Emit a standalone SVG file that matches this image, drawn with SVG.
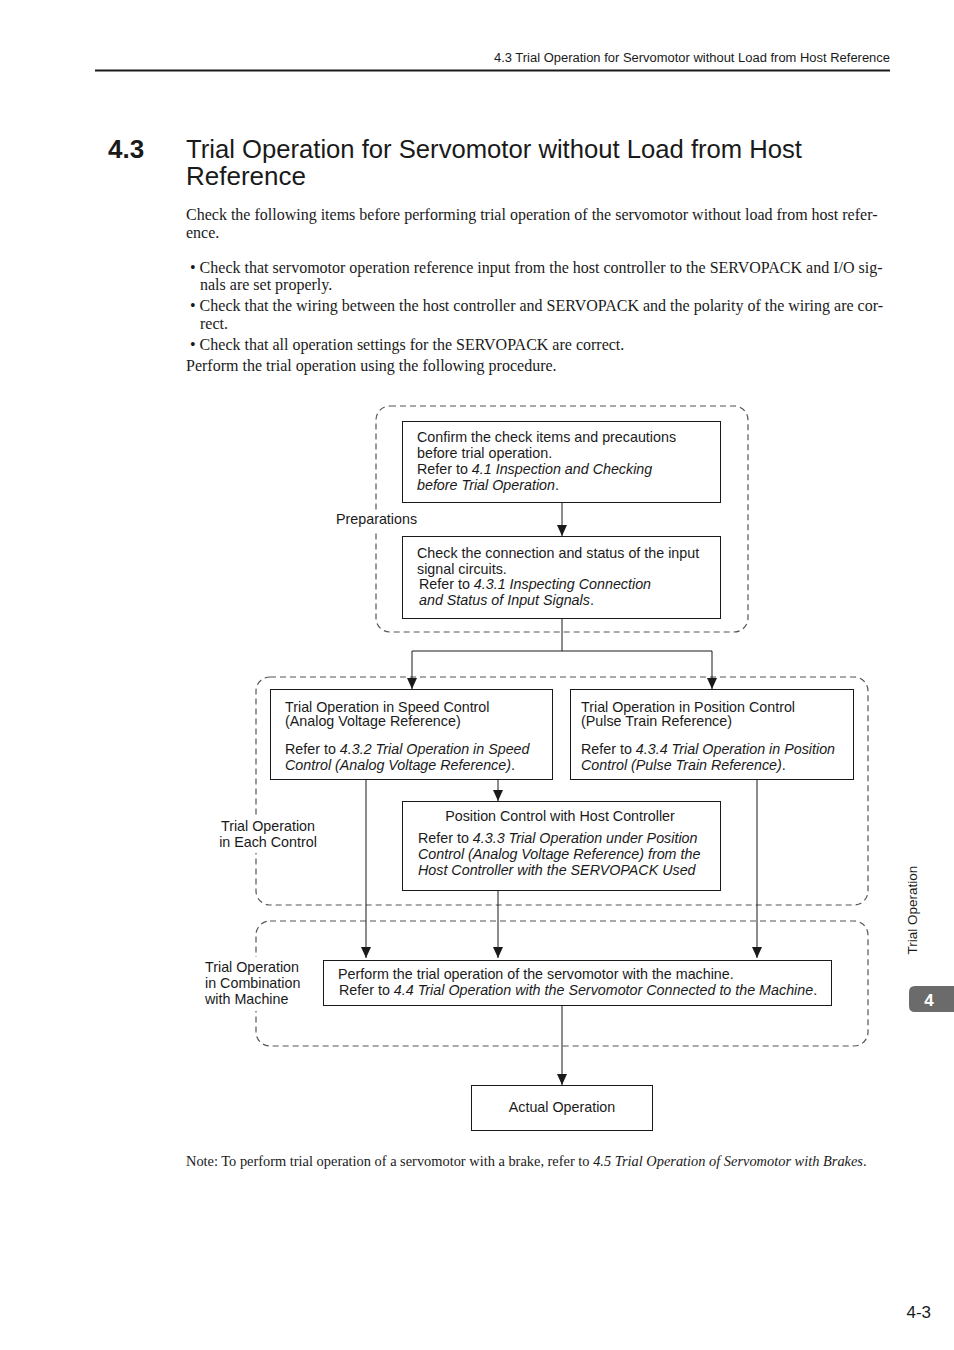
<svg xmlns="http://www.w3.org/2000/svg" width="954" height="1350" viewBox="0 0 954 1350">
<style>
.s{font-family:"Liberation Sans",Arial,sans-serif;fill:#1a1a1a}
.b{font-size:14.3px}
.r{font-family:"Liberation Serif","Times New Roman",serif;font-size:16px;fill:#1a1a1a}
.box{fill:#fff;stroke:#1a1a1a;stroke-width:1}
.grp{fill:none;stroke:#555;stroke-width:1.2;stroke-dasharray:6 4}
.ln{fill:none;stroke:#1a1a1a;stroke-width:1}
.i{font-style:italic}
.bg{fill:#fff}
</style>
<defs>
<marker id="ah" viewBox="0 0 11 10" refX="11" refY="5" markerWidth="11" markerHeight="10" markerUnits="userSpaceOnUse" orient="auto-start-reverse">
<path d="M0,0 L11,5 L0,10 Z" fill="#1a1a1a"/>
</marker>
</defs>
<rect width="954" height="1350" fill="#fff"/>

<g id="header">
<text class="s" x="890" y="62" font-size="12" text-anchor="end" textLength="396" lengthAdjust="spacingAndGlyphs">4.3  Trial Operation for Servomotor without Load from Host Reference</text>
<line x1="95" y1="70.5" x2="890" y2="70.5" stroke="#1a1a1a" stroke-width="2"/>
<text class="s" x="108" y="158" font-size="26" font-weight="bold">4.3</text>
<text class="s" x="186" y="158" font-size="26" textLength="616" lengthAdjust="spacingAndGlyphs">Trial Operation for Servomotor without Load from Host</text>
<text class="s" x="186" y="185" font-size="26">Reference</text>
</g>

<g id="intro">
<text class="r" x="186" y="220">Check the following items before performing trial operation of the servomotor without load from host refer-</text>
<text class="r" x="186" y="238">ence.</text>
<text class="r" x="190" y="273">• Check that servomotor operation reference input from the host controller to the SERVOPACK and I/O sig-</text>
<text class="r" x="200" y="290">nals are set properly.</text>
<text class="r" x="190" y="311">• Check that the wiring between the host controller and SERVOPACK and the polarity of the wiring are cor-</text>
<text class="r" x="200" y="329">rect.</text>
<text class="r" x="190" y="350">• Check that all operation settings for the SERVOPACK are correct.</text>
<text class="r" x="186" y="371">Perform the trial operation using the following procedure.</text>
</g>

<g id="groups">
<rect class="grp" x="376" y="406" width="372" height="226" rx="14"/>
<rect class="grp" x="256" y="677" width="612" height="228" rx="14"/>
<rect class="grp" x="256" y="921" width="612" height="125" rx="14"/>
<rect class="bg" x="334" y="510" width="86" height="20"/>
<text class="s b" x="336" y="524">Preparations</text>
<rect class="bg" x="216" y="815" width="106" height="38"/>
<text class="s b" x="268" y="831" text-anchor="middle">Trial Operation</text>
<text class="s b" x="268" y="847" text-anchor="middle">in Each Control</text>
<rect class="bg" x="202" y="957" width="102" height="54"/>
<text class="s b" x="205" y="972">Trial Operation</text>
<text class="s b" x="205" y="988">in Combination</text>
<text class="s b" x="205" y="1004">with Machine</text>
</g>

<g id="connectors">
<line class="ln" x1="562" y1="502" x2="562" y2="536" marker-end="url(#ah)"/>
<polyline class="ln" points="562,618 562,651"/>
<polyline class="ln" points="412,689 412,651 712,651 712,689" marker-start="url(#ah)" marker-end="url(#ah)"/>
<line class="ln" x1="498" y1="779" x2="498" y2="801" marker-end="url(#ah)"/>
<line class="ln" x1="366" y1="779" x2="366" y2="958" marker-end="url(#ah)"/>
<line class="ln" x1="498" y1="890" x2="498" y2="958" marker-end="url(#ah)"/>
<line class="ln" x1="757" y1="779" x2="757" y2="958" marker-end="url(#ah)"/>
<line class="ln" x1="562" y1="1005" x2="562" y2="1085" marker-end="url(#ah)"/>
</g>

<g id="n1">
<rect class="box" x="402.5" y="421.5" width="318" height="81"/>
<text class="s b" x="417" y="442">Confirm the check items and precautions</text>
<text class="s b" x="417" y="458">before trial operation.</text>
<text class="s b" x="417" y="474">Refer to <tspan class="i">4.1 Inspection and Checking</tspan></text>
<text class="s b" x="417" y="490"><tspan class="i">before Trial Operation</tspan>.</text>
</g>

<g id="n2">
<rect class="box" x="402.5" y="536.5" width="318" height="82"/>
<text class="s b" x="417" y="558">Check the connection and status of the input</text>
<text class="s b" x="417" y="574">signal circuits.</text>
<text class="s b" x="419" y="589">Refer to <tspan class="i">4.3.1 Inspecting Connection</tspan></text>
<text class="s b" x="419" y="605"><tspan class="i">and Status of Input Signals</tspan>.</text>
</g>

<g id="n3">
<rect class="box" x="270.5" y="689.5" width="282" height="90"/>
<text class="s b" x="285" y="712">Trial Operation in Speed Control</text>
<text class="s b" x="285" y="726">(Analog Voltage Reference)</text>
<text class="s b" x="285" y="754">Refer to <tspan class="i">4.3.2 Trial Operation in Speed</tspan></text>
<text class="s b" x="285" y="770"><tspan class="i">Control (Analog Voltage Reference)</tspan>.</text>
</g>

<g id="n4">
<rect class="box" x="570.5" y="689.5" width="283" height="90"/>
<text class="s b" x="581" y="712">Trial Operation in Position Control</text>
<text class="s b" x="581" y="726">(Pulse Train Reference)</text>
<text class="s b" x="581" y="754">Refer to <tspan class="i">4.3.4 Trial Operation in Position</tspan></text>
<text class="s b" x="581" y="770"><tspan class="i">Control (Pulse Train Reference)</tspan>.</text>
</g>

<g id="n5">
<rect class="box" x="402.5" y="801.5" width="318" height="89"/>
<text class="s b" x="560" y="821" text-anchor="middle">Position Control with Host Controller</text>
<text class="s b" x="418" y="843">Refer to <tspan class="i">4.3.3 Trial Operation under Position</tspan></text>
<text class="s b i" x="418" y="859">Control (Analog Voltage Reference) from the</text>
<text class="s b i" x="418" y="875">Host Controller with the SERVOPACK Used</text>
</g>

<g id="n6">
<rect class="box" x="323.5" y="960.5" width="508" height="45"/>
<text class="s b" x="338" y="979">Perform the trial operation of the servomotor with the machine.</text>
<text class="s b" x="339" y="995">Refer to <tspan class="i">4.4 Trial Operation with the Servomotor Connected to the Machine</tspan>.</text>
</g>

<g id="n7">
<rect class="box" x="471.5" y="1085.5" width="181" height="45"/>
<text class="s b" x="562" y="1112" text-anchor="middle">Actual Operation</text>
</g>

<g id="footer">
<text x="186" y="1166" font-family="'Liberation Serif','Times New Roman',serif" font-size="14.4" fill="#1a1a1a">Note:  To perform trial operation of a servomotor with a brake, refer to <tspan class="i">4.5 Trial Operation of Servomotor with Brakes</tspan>.</text>
<text class="s" x="917" y="910" font-size="13.5" text-anchor="middle" transform="rotate(-90 917 910)">Trial Operation</text>
<path d="M954,986 L915,986 Q909,986 909,992 L909,1006 Q909,1012 915,1012 L954,1012 Z" fill="#6b6b6b"/>
<text class="s" x="929" y="1006" font-size="17" font-weight="bold" text-anchor="middle" style="fill:#fff">4</text>
<text class="s" x="931" y="1318" font-size="17" text-anchor="end">4-3</text>
</g>
</svg>
